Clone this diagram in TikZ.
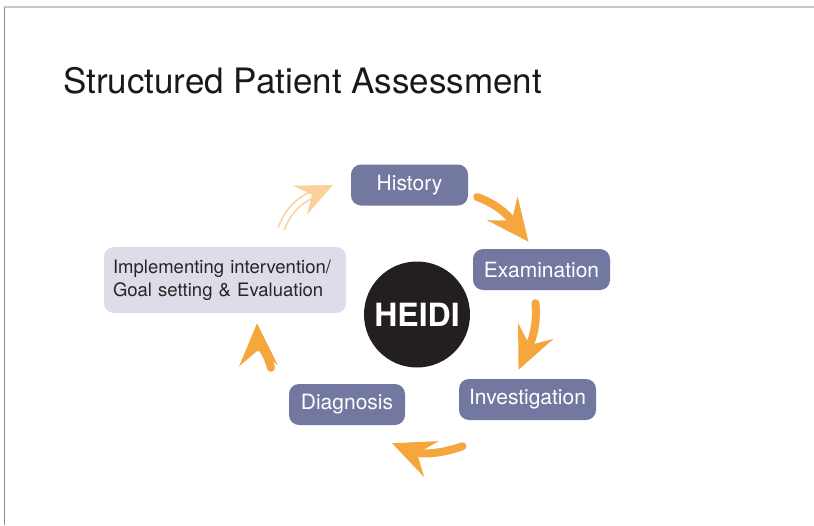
\documentclass[tikz,border=0pt]{standalone}
\usepackage{fontspec}
\setmainfont{TeX Gyre Heros}
\usetikzlibrary{arrows.meta}
\definecolor{stageblue}{RGB}{115,120,160}
\definecolor{planlilac}{RGB}{221,221,233}
\definecolor{flowor}{RGB}{245,166,60}
\definecolor{flowpeach}{RGB}{252,208,156}
\definecolor{coreblack}{RGB}{35,31,32}
\tikzset{
  stage/.style={fill=stageblue, rounded corners=10pt, text=white, inner sep=0pt,
    minimum height=41pt, font={\fontsize{21}{25}\selectfont}},
  flow/.style={draw=flowor, line width=8pt, line cap=round,
    -{Stealth[length=42pt, width=38pt, inset=15pt]}},
  backflow/.style={draw=flowpeach, line width=1.6pt, double=white, double distance=5pt,
    -{Stealth[length=36pt, width=32pt, inset=13pt]}}
}

\begin{document}
\begin{tikzpicture}[x=1pt, y=1pt]
\useasboundingbox (0,0) rectangle (814,-525);
% slide frame
\draw [black!22, line width=2pt] (4,-7) -- (814,-7);
\draw [black!45, line width=0.7pt] (4,-7) -- (4,-525);
\node [anchor=base west, inner sep=0pt, text=black!90, font={\fontsize{35}{42}\selectfont}] (title) at (63,-93) {Structured Patient Assessment};
% the five stages
\node [stage, minimum width=117pt] (history) at (409.5,-185) {History};
\node [stage, minimum width=137pt] (exam) at (541.5,-269.5) {Examination};
\node [stage, minimum width=137pt] (invest) at (527.5,-399.5) {Investigation};
\node [stage, minimum width=116pt] (diag) at (347,-404.5) {Diagnosis};
\node [fill=planlilac, rounded corners=10pt, text=black!85, minimum width=242pt, minimum height=66pt,
  text width=224pt, align=left, inner sep=0pt, font={\fontsize{18.5}{23}\selectfont}] (impl) at (225,-280)
  {Implementing intervention/\\Goal setting \& Evaluation};
\node [circle, fill=coreblack, minimum size=106pt, inner sep=0pt, text=white,
  font={\fontsize{32}{36}\selectfont\bfseries}] (heidi) at (417,-314.5) {HEIDI};
% arrows round the cycle
\draw [flow] ([shift={(9,-12)}]history.east) to[out=-20, in=128] ([shift={(-13,7)}]exam.north);
\draw [flow] ([shift={(-6,-13)}]exam.south) to[out=-85, in=66] ([shift={(-9,9)}]invest.north);
\draw [flow] ([shift={(-65,-26)}]invest.south) to[out=-160, in=-22] ([shift={(45,-18)}]diag.south);
\draw [flow] ([shift={(-76,16)}]diag.north) to[out=105, in=-88] ([shift={(32,-10)}]impl.south);
\draw [backflow] ([shift={(-65,18)}]impl.north east) to[out=70, in=-155] ([shift={(-18,0)}]history.west);
\end{tikzpicture}
\end{document}
